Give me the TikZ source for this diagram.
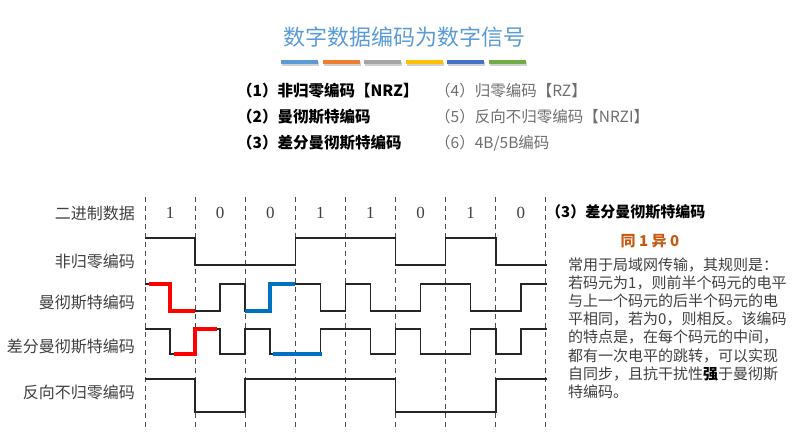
\documentclass[tikz,border=0pt]{standalone}
\usepackage{fontspec}
\setmainfont{Liberation Serif}
\newfontfamily\cjk{Noto Sans CJK SC}
\definecolor{titleblue}{HTML}{5B9BD5}
\definecolor{barA}{HTML}{5B9BD5}
\definecolor{barB}{HTML}{ED7D31}
\definecolor{barC}{HTML}{A5A5A5}
\definecolor{barD}{HTML}{FFC000}
\definecolor{barE}{HTML}{4472C4}
\definecolor{barF}{HTML}{70AD47}
\definecolor{mblue}{HTML}{0070C0}
\definecolor{rorange}{HTML}{C55A11}
\definecolor{txtgray}{HTML}{404040}
\definecolor{listgray}{HTML}{6E6E6E}
\begin{document}
\begin{tikzpicture}[x=1pt,y=-1pt,
  lbl/.style={anchor=east,inner sep=0pt,text=txtgray,font=\cjk\fontsize{16}{16}\selectfont},
  listL/.style={anchor=west,inner sep=0pt,text=black,font=\cjk\bfseries\fontsize{15.5}{16}\selectfont},
  listR/.style={anchor=west,inner sep=0pt,text=listgray,font=\cjk\fontsize{15.5}{16}\selectfont},
  para/.style={anchor=west,inner sep=0pt,text=txtgray,font=\cjk\fontsize{15}{15}\selectfont},
  digit/.style={inner sep=0pt,text=txtgray,font=\fontsize{17}{17}\selectfont},
  wave/.style={line width=1.6pt,black!85,line join=miter},
  hlred/.style={line width=3.6pt,red},
  hlblue/.style={line width=3.6pt,mblue},
  gridline/.style={gray!60!black,line width=1pt,dash pattern=on 5pt off 4pt},
  bar/.style={minimum width=37pt,minimum height=4pt,inner sep=0pt,anchor=north west}
]
\useasboundingbox (0,0) rectangle (801,438);

% title
\node[text=titleblue,font=\cjk\fontsize{22}{22}\selectfont,inner sep=0pt] (title) at (404,37) {数字数据编码为数字信号};
\foreach \c [count=\i from 0] in {barA,barB,barC,barD,barE,barF}{
  \fill[black,opacity=0.18] (281+41.5*\i+1,62.5) rectangle ++(37,3.5);
  \node[bar,fill=\c] (bar\i) at (281+41.5*\i,60) {};
}

% list
\node[listL] (l1) at (237,90.5) {（1）非归零编码【NRZ】};
\node[listL] (l2) at (237,117) {（2）曼彻斯特编码};
\node[listL] (l3) at (237,143) {（3）差分曼彻斯特编码};
\node[listR] (r1) at (435,90.5) {（4）归零编码【RZ】};
\node[listR] (r2) at (435,117) {（5）反向不归零编码【NRZI】};
\node[listR] (r3) at (435,143) {（6）4B/5B编码};

% row labels
\node[lbl] (lab0) at (135,213) {二进制数据};
\node[lbl] (lab1) at (135,261) {非归零编码};
\node[lbl] (lab2) at (135,302) {曼彻斯特编码};
\node[lbl] (lab3) at (135,346) {差分曼彻斯特编码};
\node[lbl] (lab4) at (135,392) {反向不归零编码};

\begin{scope}[shift={(145,0)},x=50.1pt]
  % dashed bit boundaries
  \foreach \i in {0,...,8}{
    \draw[gridline] (\i,197) -- (\i,427);
  }
  % data bits
  \foreach \b [count=\i from 0] in {1,0,0,1,1,0,1,0}{
    \node[digit] (bit\i) at (\i+0.5,213) {\b};
  }
  % NRZ
  \draw[wave] (0,238) -- (1,238) -- (1,265) -- (3,265) -- (3,238) -- (5,238) -- (5,265)
     -- (6,265) -- (6,238) -- (7,238) -- (7,265) -- (8.02,265);
  % Manchester
  \draw[wave] (0,284) -- (0.5,284) -- (0.5,311) -- (1.5,311) -- (1.5,284) -- (2,284) -- (2,311)
     -- (2.5,311) -- (2.5,284) -- (3.5,284) -- (3.5,311) -- (4,311) -- (4,284) -- (4.5,284)
     -- (4.5,311) -- (5.5,311) -- (5.5,284) -- (6.5,284) -- (6.5,311) -- (7.5,311)
     -- (7.5,284) -- (8.02,284);
  \draw[hlred] (0.07,284) -- (0.5,284) -- (0.5,311) -- (1,311);
  \draw[hlblue] (2,311) -- (2.5,311) -- (2.5,284) -- (3,284);
  % Differential Manchester
  \draw[wave] (0,329) -- (0.5,329) -- (0.5,354) -- (1,354) -- (1,329) -- (1.5,329) -- (1.5,354)
     -- (2,354) -- (2,329) -- (2.5,329) -- (2.5,354) -- (3.5,354) -- (3.5,329) -- (4.5,329)
     -- (4.5,354) -- (5,354) -- (5,329) -- (5.5,329) -- (5.5,354) -- (6.5,354) -- (6.5,329)
     -- (7,329) -- (7,354) -- (7.5,354) -- (7.5,329) -- (8.02,329);
  \draw[hlred] (0.58,354) -- (1,354) -- (1,329) -- (1.44,329);
  \draw[hlblue] (2.55,354) -- (3.53,354);
  % NRZI
  \draw[wave] (0,379) -- (1,379) -- (1,412) -- (2,412) -- (2,379) -- (5,379) -- (5,412)
     -- (7,412) -- (7,379) -- (8.02,379);
\end{scope}

% right panel
\node[anchor=west,inner sep=0pt,text=black,font=\cjk\bfseries\fontsize{15}{15}\selectfont] (ph) at (546,212) {（3）差分曼彻斯特编码};
\node[inner sep=0pt,text=rorange,font=\cjk\bfseries\fontsize{15}{15}\selectfont] (rule) at (650,241) {同 1 异 0};
\node[para] (p1) at (568,265) {常用于局域网传输，其规则是：};
\node[para] (p2) at (568,283.1) {若码元为1，则前半个码元的电平};
\node[para] (p3) at (568,301.2) {与上一个码元的后半个码元的电};
\node[para] (p4) at (568,319.3) {平相同，若为0，则相反。该编码};
\node[para] (p5) at (568,337.4) {的特点是，在每个码元的中间，};
\node[para] (p6) at (568,355.5) {都有一次电平的跳转，可以实现};
\node[para] (p7) at (568,373.6) {自同步，且抗干扰性{\bfseries\color{black}强}于曼彻斯};
\node[para] (p8) at (568,391.7) {特编码。};
\end{tikzpicture}
\end{document}
